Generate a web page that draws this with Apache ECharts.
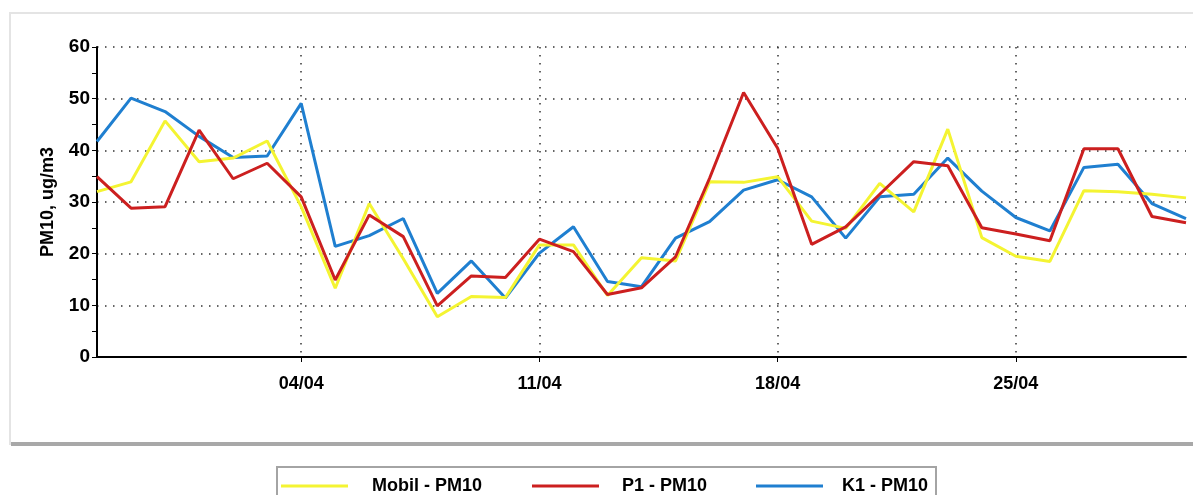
<!DOCTYPE html>
<html>
<head>
<meta charset="utf-8">
<script src="https://cdn.jsdelivr.net/npm/echarts@6/dist/echarts.min.js"></script>
<style>
html,body{margin:0;padding:0;background:#fff;}
#c{width:1193px;height:495px;}
</style>
</head>
<body>
<div id="c"></div>
<script>
const categories = ['29/03','30/03','31/03','01/04','02/04','03/04','04/04','05/04','06/04','07/04','08/04','09/04','10/04','11/04','12/04','13/04','14/04','15/04','16/04','17/04','18/04','19/04','20/04','21/04','22/04','23/04','24/04','25/04','26/04','27/04','28/04','29/04','30/04'];
const mobilPM10 = [32, 33.9, 45.7, 37.8, 38.5, 41.8, 29.1, 13.3, 29.7, 19, 7.8, 11.7, 11.5, 21.7, 21.7, 11.9, 19.2, 18.6, 33.9, 33.8, 34.9, 26.3, 24.9, 33.6, 28.1, 44.1, 23.1, 19.5, 18.5, 32.2, 32, 31.5, 30.8];
const p1PM10 = [34.9, 28.8, 29.1, 43.9, 34.5, 37.5, 31, 14.9, 27.5, 23.3, 9.9, 15.7, 15.4, 22.8, 20.4, 12.1, 13.4, 19.4, 34.6, 51.2, 40.4, 21.8, 25.2, 31.5, 37.8, 37, 25, 23.8, 22.5, 40.3, 40.3, 27.2, 26];
const k1PM10 = [41.7, 50.1, 47.5, 42.7, 38.6, 38.9, 49.1, 21.4, 23.5, 26.8, 12.3, 18.6, 11.4, 20.1, 25.2, 14.6, 13.6, 23, 26.2, 32.3, 34.3, 31, 23, 31, 31.5, 38.5, 32.1, 27, 24.4, 36.7, 37.3, 29.7, 26.8];
const seriesNames = ['Mobil - PM10', 'P1 - PM10', 'K1 - PM10'];
const yAxisName = 'PM10, ug/m3';

const FONT = "'Liberation Sans Narrow', 'Liberation Sans', Arial, sans-serif";
const COLORS = ['#f4f432', '#cc1f1f', '#1f7fd0'];
const labelDay = function (i) { return i % 7 === 6; };
const legendLeft = [281, 532, 756];
const legendPad = [19, 18, 14];

const legends = seriesNames.map(function (n, k) {
  return {
    data: [{name: n, icon: 'rect'}],
    left: legendLeft[k], top: 477, padding: 0,
    itemWidth: 67, itemHeight: 3, itemGap: 0,
    textStyle: {fontFamily: FONT, fontWeight: 'bold', fontSize: 18, color: '#000', padding: [0, 0, 0, legendPad[k]]}
  };
});

const chart = echarts.init(document.getElementById('c'), null, {renderer: 'canvas'});
chart.setOption({
  animation: false,
  backgroundColor: '#ffffff',
  graphic: [
    {type: 'rect', z: -10, shape: {x: 10, y: 13, width: 1190, height: 431}, style: {fill: '#ffffff', stroke: '#e4e4e4', lineWidth: 2}},
    {type: 'rect', z: -9, shape: {x: 11, y: 442, width: 1182, height: 4}, style: {fill: '#a8a8a8'}},
    {type: 'rect', z: -9, shape: {x: 277, y: 467, width: 659, height: 40}, style: {fill: '#ffffff', stroke: '#a4a4a4', lineWidth: 2}}
  ],
  grid: {left: 97, right: 7, top: 47, bottom: 138, containLabel: false},
  legend: legends,
  xAxis: {
    type: 'category',
    data: categories,
    boundaryGap: false,
    axisLine: {lineStyle: {color: '#000', width: 2}},
    axisTick: {show: true, interval: labelDay, length: 5, lineStyle: {color: '#000', width: 1}},
    axisLabel: {interval: labelDay, fontFamily: FONT, fontWeight: 'bold', fontSize: 18, color: '#000', margin: 18},
    splitLine: {show: true, interval: labelDay, lineStyle: {color: '#333', width: 1.5, type: [1.5, 6.5]}}
  },
  yAxis: {
    type: 'value',
    min: 0, max: 60, interval: 10,
    name: yAxisName,
    nameLocation: 'middle',
    nameGap: 40,
    nameTextStyle: {fontFamily: FONT, fontWeight: 'bold', fontSize: 18, color: '#000'},
    axisLine: {show: true, lineStyle: {color: '#000', width: 2}},
    axisTick: {show: true, length: 5, lineStyle: {color: '#000'}},
    minorTick: {show: true, splitNumber: 2, length: 5, lineStyle: {color: '#000'}},
    axisLabel: {fontFamily: FONT, fontWeight: 'bold', fontSize: 19, color: '#000', margin: 7},
    splitLine: {show: true, lineStyle: {color: '#333', width: 1.5, type: [1.5, 6.5]}}
  },
  series: [
    {name: seriesNames[0], type: 'line', data: mobilPM10, symbol: 'none', lineStyle: {color: COLORS[0], width: 3}, itemStyle: {color: COLORS[0]}, z: 3},
    {name: seriesNames[1], type: 'line', data: p1PM10, symbol: 'none', lineStyle: {color: COLORS[1], width: 3}, itemStyle: {color: COLORS[1]}, z: 4},
    {name: seriesNames[2], type: 'line', data: k1PM10, symbol: 'none', lineStyle: {color: COLORS[2], width: 3}, itemStyle: {color: COLORS[2]}, z: 2}
  ]
});
</script>
</body>
</html>
